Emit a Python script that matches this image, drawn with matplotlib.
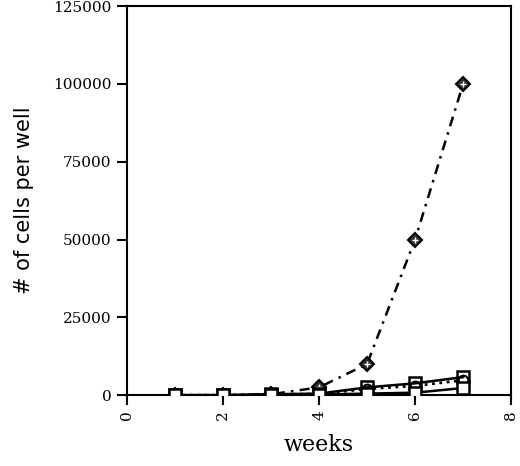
import matplotlib
matplotlib.use("Agg")
import matplotlib.pyplot as plt

weeks = [1, 2, 3, 4, 5, 6, 7]

# estimated values
cells_diamond = [0, 0, 300, 2500, 10000, 50000, 100000]
cells_sq_high = [0, 0, 300, 500, 2500, 3800, 5800]
cells_circle = [0, 0, 200, 400, 2000, 3000, 4800]
cells_sq_low = [0, 0, 100, 200, 500, 800, 2300]

x_ticks = [0, 2, 4, 6, 8]
y_ticks = [0, 25000, 50000, 75000, 100000, 125000]

fig = plt.figure(figsize=(5.2, 4.66), dpi=100)
ax = fig.add_axes([0.244, 0.152, 0.739, 0.835])

ax.plot(weeks, cells_diamond, color='black', lw=1.8, dashes=(4, 2.5, 1, 2.5),
        marker='D', ms=7, mfc='#333333', mec='black', mew=1.5, zorder=2)
ax.plot(weeks[3:], cells_diamond[3:], '+', color='white', ms=5, mew=1, zorder=2.5)
ax.plot(weeks, cells_circle, ':', color='black', lw=2,
        marker='o', ms=7, mfc='white', mec='black', mew=1.5, zorder=3)
ax.plot(weeks, cells_sq_high, '-', color='black', lw=1.8,
        marker='s', ms=9, mfc='none', mec='black', mew=1.8, zorder=4)
ax.plot(weeks, cells_sq_low, '-', color='black', lw=1.8,
        marker='s', ms=9, mfc='white', mec='black', mew=1.8, zorder=5)

ax.set_xlim(0, 8)
ax.set_ylim(0, 125000)
ax.set_xticks(x_ticks)
ax.set_yticks(y_ticks)
ax.set_xticklabels([str(t) for t in x_ticks], rotation=90,
                   family='DejaVu Serif', fontsize=11)
ax.set_yticklabels([str(t) for t in y_ticks], family='DejaVu Serif', fontsize=11)
ax.tick_params(direction='out', length=7, width=1.5, pad=4)

for s in ax.spines.values():
    s.set_linewidth(1.5)

ax.set_xlabel('weeks', family='DejaVu Serif', fontsize=16, labelpad=10)
ax.set_ylabel('# of cells per well', family='DejaVu Sans', fontsize=15, labelpad=14)

fig.savefig('out.png', dpi=100)
